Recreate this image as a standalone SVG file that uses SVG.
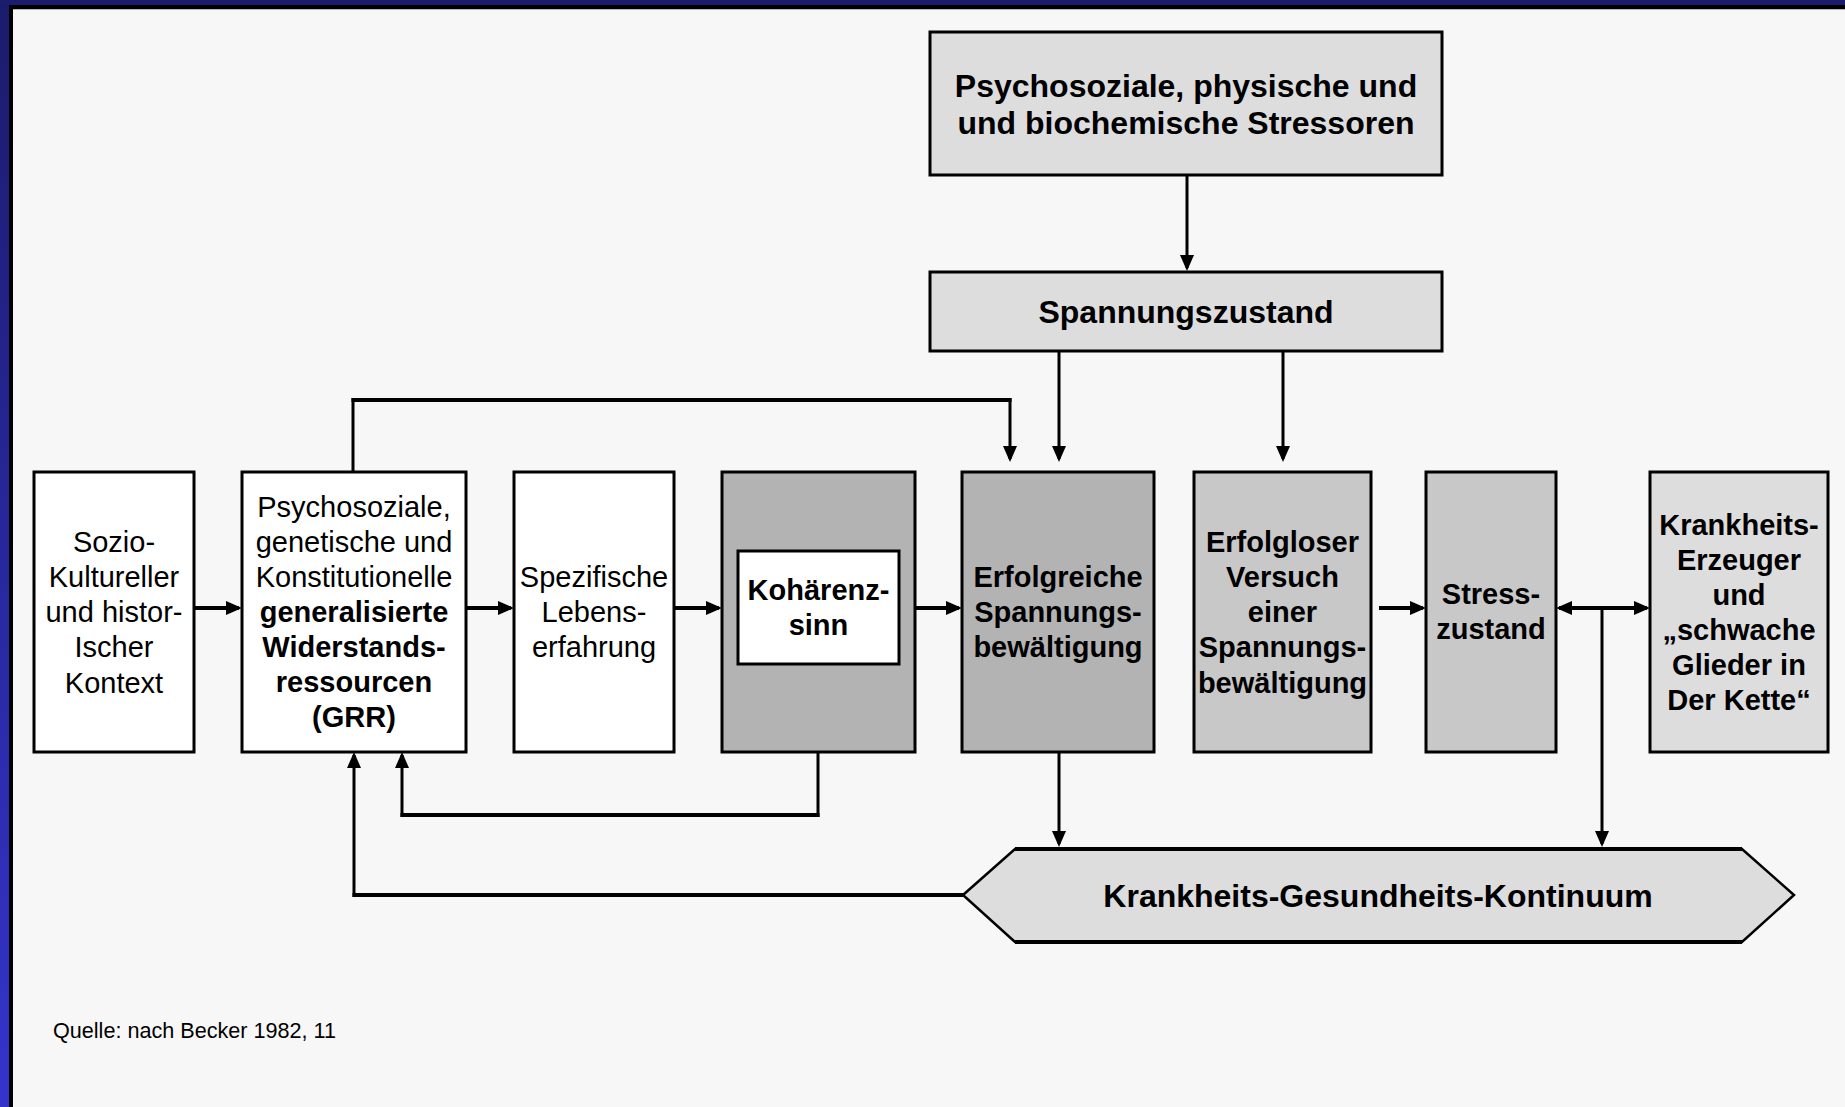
<svg xmlns="http://www.w3.org/2000/svg" width="1845" height="1107" viewBox="0 0 1845 1107">
<defs>
<linearGradient id="blueL" x1="0" y1="0" x2="0" y2="1">
<stop offset="0" stop-color="#1b1b6c"/>
<stop offset="1" stop-color="#3434cc"/>
</linearGradient>
<marker id="ah" markerUnits="userSpaceOnUse" markerWidth="16" markerHeight="14" viewBox="0 0 16 14" refX="13" refY="7" orient="auto">
<path d="M0,0 L16,7 L0,14 z" fill="#000"/>
</marker>
<marker id="ahs" markerUnits="userSpaceOnUse" markerWidth="16" markerHeight="14" viewBox="0 0 16 14" refX="3" refY="7" orient="auto">
<path d="M16,0 L0,7 L16,14 z" fill="#000"/>
</marker>
</defs>
<style>
text{font-family:"Liberation Sans",Arial,Helvetica,sans-serif;fill:#000;text-anchor:middle}
.b{font-weight:bold}
.t32{font-size:32px}
.t29{font-size:29px}
.box{stroke:#000;stroke-width:3}
.w{fill:#ffffff}
.g1{fill:#dddddd}
.g2{fill:#b3b3b3}
.g3{fill:#c8c8c8}
.con line,.con path{stroke:#000;fill:none;stroke-linecap:butt}
.v{stroke-width:3}
.h{stroke-width:4}
</style>
<rect x="0" y="0" width="1845" height="1107" fill="#f7f7f7"/>
<g id="frame">
<rect x="0" y="0" width="9" height="1107" fill="url(#blueL)"/>
<rect x="0" y="0" width="1845" height="5" fill="#1c1c6e"/>
<rect x="9" y="5" width="4" height="1102" fill="#000"/>
<rect x="9" y="5" width="1836" height="4" fill="#000"/>
<rect x="13" y="9" width="1832" height="1" fill="#b4b4b4"/>
</g>
<g id="stressoren">
<rect class="box g1" x="930" y="32" width="512" height="143"/>
<text class="b t32" x="1186" y="97">Psychosoziale, physische und</text>
<text class="b t32" x="1186" y="134">und biochemische Stressoren</text>
</g>
<g id="spannungszustand">
<rect class="box g1" x="930" y="272" width="512" height="79"/>
<text class="b t32" x="1186" y="323">Spannungszustand</text>
</g>
<g id="sozio">
<rect class="box w" x="34" y="472" width="160" height="280"/>
<text class="t29" x="114" y="552">Sozio-</text>
<text class="t29" x="114" y="587">Kultureller</text>
<text class="t29" x="114" y="622">und histor-</text>
<text class="t29" x="114" y="657">Ischer</text>
<text class="t29" x="114" y="693">Kontext</text>
</g>
<g id="grr">
<rect class="box w" x="242" y="472" width="224" height="280"/>
<text class="t29" x="354" y="517">Psychosoziale,</text>
<text class="t29" x="354" y="552">genetische und</text>
<text class="t29" x="354" y="587">Konstitutionelle</text>
<text class="b t29" x="354" y="622">generalisierte</text>
<text class="b t29" x="354" y="657">Widerstands-</text>
<text class="b t29" x="354" y="692">ressourcen</text>
<text class="b t29" x="354" y="727">(GRR)</text>
</g>
<g id="lebenserfahrung">
<rect class="box w" x="514" y="472" width="160" height="280"/>
<text class="t29" x="594" y="587">Spezifische</text>
<text class="t29" x="594" y="622">Lebens-</text>
<text class="t29" x="594" y="657">erfahrung</text>
</g>
<g id="kohaerenz">
<rect class="box g2" x="722" y="472" width="193" height="280"/>
<rect class="box w" x="738" y="551" width="161" height="113"/>
<text class="b t29" x="818.5" y="600">Kohärenz-</text>
<text class="b t29" x="818.5" y="635">sinn</text>
</g>
<g id="erfolgreiche">
<rect class="box g2" x="962" y="472" width="192" height="280"/>
<text class="b t29" x="1058" y="587">Erfolgreiche</text>
<text class="b t29" x="1058" y="622">Spannungs-</text>
<text class="b t29" x="1058" y="657">bewältigung</text>
</g>
<g id="erfolgloser">
<rect class="box g3" x="1194" y="472" width="177" height="280"/>
<text class="b t29" x="1282.5" y="552">Erfolgloser</text>
<text class="b t29" x="1282.5" y="587">Versuch</text>
<text class="b t29" x="1282.5" y="622">einer</text>
<text class="b t29" x="1282.5" y="657">Spannungs-</text>
<text class="b t29" x="1282.5" y="693">bewältigung</text>
</g>
<g id="stresszustand">
<rect class="box g3" x="1426" y="472" width="130" height="280"/>
<text class="b t29" x="1491" y="604">Stress-</text>
<text class="b t29" x="1491" y="639">zustand</text>
</g>
<g id="krankheitserzeuger">
<rect class="box g1" x="1650" y="472" width="178" height="280"/>
<text class="b t29" x="1739" y="535">Krankheits-</text>
<text class="b t29" x="1739" y="570">Erzeuger</text>
<text class="b t29" x="1739" y="605">und</text>
<text class="b t29" x="1739" y="640">„schwache</text>
<text class="b t29" x="1739" y="675">Glieder in</text>
<text class="b t29" x="1739" y="710">Der Kette“</text>
</g>
<g id="kontinuum">
<polygon points="963,895 1015,849 1742,849 1794,895 1742,942 1015,942" fill="#dddddd" stroke="#000" stroke-width="2.5"/>
<line x1="1015" y1="849" x2="1742" y2="849" stroke="#000" stroke-width="4"/>
<line x1="1015" y1="942" x2="1742" y2="942" stroke="#000" stroke-width="4"/>
<text class="b t32" x="1378" y="907">Krankheits-Gesundheits-Kontinuum</text>
</g>
<g id="connectors" class="con">
<line class="v" x1="1187" y1="175" x2="1187" y2="268" marker-end="url(#ah)"/>
<line class="v" x1="1059" y1="351" x2="1059" y2="459" marker-end="url(#ah)"/>
<line class="v" x1="1283" y1="351" x2="1283" y2="459" marker-end="url(#ah)"/>
<line class="v" x1="353" y1="472" x2="353" y2="398"/>
<line class="h" x1="351.5" y1="400" x2="1011.5" y2="400"/>
<line class="v" x1="1010" y1="398" x2="1010" y2="459" marker-end="url(#ah)"/>
<line class="h" x1="195" y1="608" x2="239" y2="608" marker-end="url(#ah)"/>
<line class="h" x1="466" y1="608" x2="511" y2="608" marker-end="url(#ah)"/>
<line class="h" x1="674" y1="608" x2="719" y2="608" marker-end="url(#ah)"/>
<line class="h" x1="915" y1="608" x2="959" y2="608" marker-end="url(#ah)"/>
<line class="h" x1="1379" y1="608" x2="1423" y2="608" marker-end="url(#ah)"/>
<line class="h" x1="1559" y1="608" x2="1647" y2="608" marker-start="url(#ahs)" marker-end="url(#ah)"/>
<line class="v" x1="1602" y1="608" x2="1602" y2="844" marker-end="url(#ah)"/>
<line class="v" x1="1059" y1="752" x2="1059" y2="844" marker-end="url(#ah)"/>
<line class="v" x1="818" y1="752" x2="818" y2="817"/>
<line class="h" x1="819.5" y1="815" x2="400.5" y2="815"/>
<line class="v" x1="402" y1="817" x2="402" y2="755" marker-end="url(#ah)"/>
<line class="h" x1="963" y1="895" x2="352.5" y2="895"/>
<line class="v" x1="354" y1="897" x2="354" y2="755" marker-end="url(#ah)"/>
</g>
<text id="quelle" x="53" y="1038" style="font-size:21.6px;text-anchor:start">Quelle: nach Becker 1982, 11</text>
</svg>
